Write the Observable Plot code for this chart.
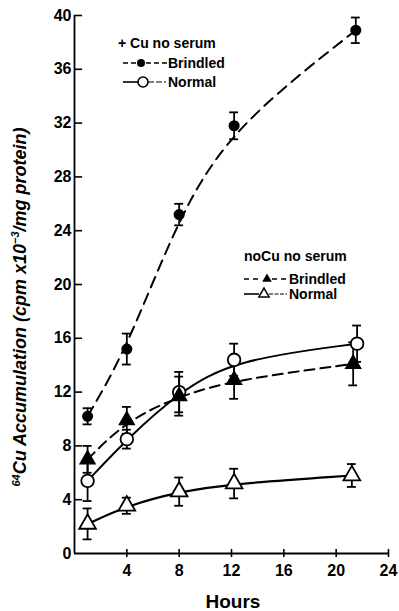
<!DOCTYPE html>
<html>
<head>
<meta charset="utf-8">
<script src="https://cdn.jsdelivr.net/npm/d3@7"></script>
<script src="https://cdn.jsdelivr.net/npm/@observablehq/plot@0.6"></script>
<style>
  html, body { margin: 0; padding: 0; background: #fff; }
  #chart svg { display: block; }
</style>
</head>
<body>
<div id="chart"></div>
<script>
// ---- data ----
const xTicks = [4, 8, 12, 16, 20, 24];
const yTicks = [0, 4, 8, 12, 16, 20, 24, 28, 32, 36, 40];

const brindledCuHours = [1, 4, 8, 12.2, 21.5];
const brindledCuValues = [10.2, 15.2, 25.2, 31.8, 38.9];
const brindledCuErr = [0.6, 1.15, 0.8, 1.0, 0.95];

const normalCuHours = [1, 4, 8, 12.2, 21.6];
const normalCuValues = [5.4, 8.5, 12.0, 14.4, 15.6];
const normalCuErr = [1.5, 0.7, 1.5, 1.2, 1.35];

const brindledNoCuHours = [1, 4, 8, 12.2, 21.3];
const brindledNoCuValues = [7.0, 9.9, 11.7, 12.9, 14.1];
const brindledNoCuErr = [1.0, 1.0, 1.45, 1.4, 1.6];

const normalNoCuHours = [1, 4, 8, 12.2, 21.2];
const normalNoCuValues = [2.2, 3.55, 4.6, 5.2, 5.8];
const normalNoCuErr = [1.15, 0.6, 1.05, 1.1, 0.85];

const rows = (hours, values, err) => hours.map((h, i) => ({x: h, y: values[i], lo: values[i] - err[i], hi: values[i] + err[i]}));
const bCu = rows(brindledCuHours, brindledCuValues, brindledCuErr);
const nCu = rows(normalCuHours, normalCuValues, normalCuErr);
const bNo = rows(brindledNoCuHours, brindledNoCuValues, brindledNoCuErr);
const nNo = rows(normalNoCuHours, normalNoCuValues, normalNoCuErr);
const all = [...bCu, ...nCu, ...bNo, ...nNo];

const FONT = '"Liberation Sans Narrow", "Liberation Sans", Arial, sans-serif';
const capHalf = 0.34;

const chart = Plot.plot({
  width: 399,
  height: 611,
  marginLeft: 74,
  marginRight: 11,
  marginTop: 15,
  marginBottom: 58,
  style: {fontFamily: FONT, background: "#fff", color: "#000"},
  x: {domain: [0, 24], axis: null, label: null},
  y: {domain: [0, 40], axis: null, label: null},
  marks: [
    // axes
    Plot.ruleX([0], {y1: yTicks[0], y2: yTicks[yTicks.length - 1], stroke: "#000", strokeWidth: 1.8}),
    Plot.ruleY([0], {x1: 0, x2: xTicks[xTicks.length - 1], stroke: "#000", strokeWidth: 1.8}),
    Plot.ruleY(yTicks.slice(1), {y: d => d, x1: 0, x2: 0.62, stroke: "#000", strokeWidth: 1.6}),
    Plot.ruleX(xTicks, {x: d => d, y1: 0, y2: 0.3, stroke: "#000", strokeWidth: 1.6}),
    Plot.axisY({ticks: yTicks, tickSize: 0, tickPadding: 3, fontSize: 16, fontWeight: "bold", tickFormat: d => d, label: null}),
    Plot.axisX({ticks: xTicks, tickSize: 4, tickPadding: 7, fontSize: 16, fontWeight: "bold", strokeWidth: 1.6, tickFormat: d => d, label: null}),
    // curves (smoothed, fitted look)
    Plot.line(bCu, {x: "x", y: "y", curve: "basis", stroke: "#000", strokeWidth: 2, strokeDasharray: "11,7"}),
    Plot.line(nCu, {x: "x", y: "y", curve: "basis", stroke: "#000", strokeWidth: 2}),
    Plot.line(bNo, {x: "x", y: "y", curve: "basis", stroke: "#000", strokeWidth: 2, strokeDasharray: "10,6"}),
    Plot.line(nNo, {x: "x", y: "y", curve: "basis", stroke: "#000", strokeWidth: 2.2}),
    // error bars
    Plot.ruleX(all, {x: "x", y1: "lo", y2: "hi", stroke: "#000", strokeWidth: 1.8}),
    Plot.ruleY(all, {y: "hi", x1: d => d.x - capHalf, x2: d => d.x + capHalf, stroke: "#000", strokeWidth: 1.8}),
    Plot.ruleY(all, {y: "lo", x1: d => d.x - capHalf, x2: d => d.x + capHalf, stroke: "#000", strokeWidth: 1.8}),
    // markers
    Plot.dot(bCu, {x: "x", y: "y", r: 4.8, fill: "#000", stroke: "#000"}),
    Plot.dot(nCu, {x: "x", y: "y", r: 6.3, fill: "#fff", stroke: "#000", strokeWidth: 1.8}),
    Plot.dot(bNo, {x: "x", y: "y", symbol: "triangle", r: 5.5, fill: "#000", stroke: "#000"}),
    Plot.dot(nNo, {x: "x", y: "y", symbol: "triangle", r: 6.2, fill: "#fff", stroke: "#000", strokeWidth: 1.8})
  ]
});

document.getElementById("chart").appendChild(chart);

const svg = d3.select(chart);

// y-axis title
const yt = svg.append("text")
  .attr("transform", "translate(26,307) rotate(-90)")
  .attr("text-anchor", "middle")
  .style("font-family", FONT)
  .style("font-size", "18px")
  .style("font-style", "italic")
  .style("font-weight", "bold");
yt.append("tspan").attr("font-size", "11px").attr("dy", "-6").text("64");
yt.append("tspan").attr("dy", "6").text("Cu Accumulation (cpm x10");
yt.append("tspan").attr("font-size", "11px").attr("dy", "-7").text("−3");
yt.append("tspan").attr("dy", "7").text("/mg protein)");

// x-axis title
svg.append("text")
  .attr("x", 233).attr("y", 608)
  .attr("text-anchor", "middle")
  .style("font-family", FONT)
  .style("font-size", "19px")
  .style("font-weight", "bold")
  .text("Hours");

// legends
function legendText(x, y, t) {
  svg.append("text").attr("x", x).attr("y", y)
    .attr("text-anchor", "start")
    .style("font-family", FONT).style("font-size", "14px").style("font-weight", "bold")
    .text(t);
}
function seg(x1, x2, y, dash, w) {
  svg.append("line").attr("x1", x1).attr("x2", x2).attr("y1", y).attr("y2", y)
    .attr("stroke", "#000").attr("stroke-width", w || 1.6).attr("stroke-dasharray", dash || null);
}
const tri = d3.symbol(d3.symbolTriangle);

// legend 1
legendText(118, 48, "+ Cu no serum");
seg(123, 137, 63, "5,3");
svg.append("circle").attr("cx", 141).attr("cy", 63).attr("r", 4).attr("fill", "#000");
seg(146, 167, 63, "5,3");
legendText(168, 68, "Brindled");
seg(123, 138, 82);
svg.append("circle").attr("cx", 143).attr("cy", 82).attr("r", 5).attr("fill", "#fff").attr("stroke", "#000").attr("stroke-width", 1.6);
seg(148, 166, 82, "6,2", 1.2);
legendText(168, 87, "Normal");

// legend 2
legendText(244, 261, "noCu no serum");
seg(244, 262, 279, "5,4");
svg.append("path").attr("d", tri.size(40)()).attr("transform", "translate(267,279)").attr("fill", "#000");
seg(272, 288, 279, "5,4");
legendText(289, 284, "Brindled");
seg(244, 259, 294);
svg.append("path").attr("d", tri.size(45)()).attr("transform", "translate(264,294)").attr("fill", "#fff").attr("stroke", "#000").attr("stroke-width", 1.5);
seg(269, 287, 294, "4,1.5", 1.2);
legendText(289, 299, "Normal");
</script>
</body>
</html>
